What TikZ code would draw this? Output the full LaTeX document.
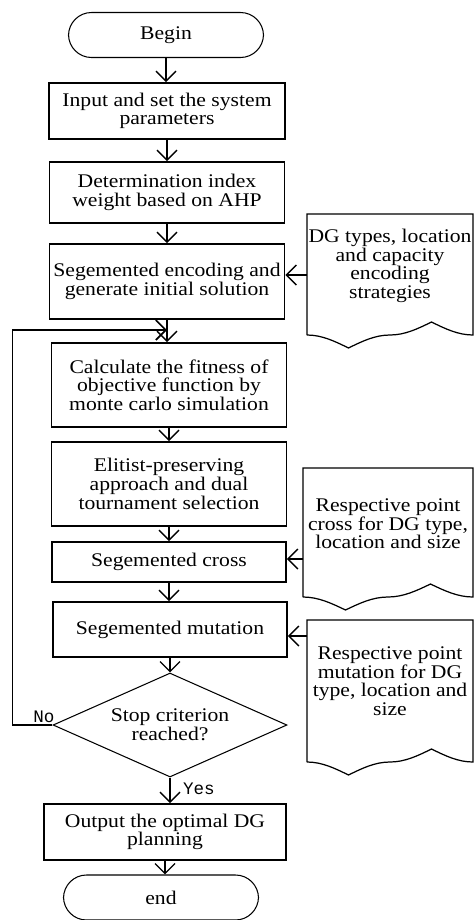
\documentclass[tikz,border=0pt]{standalone}
\usepackage{fontspec}
\setmainfont{Liberation Serif}[FakeStretch=1.12]
\newfontfamily\ynfont{Liberation Mono}
\usetikzlibrary{shapes.geometric,arrows.meta}
\tikzset{
  txt/.style={font=\fontsize{11}{10.6}\selectfont, align=center},
  box/.style={txt, draw, line width=1.1pt, inner sep=1pt},
  term/.style={txt, draw, line width=0.6pt, rounded corners=0.46cm, minimum width=3.9cm, minimum height=0.9cm},
  arr/.style={-{Straight Barb[length=2mm,width=4mm]}, line width=0.8pt},
  yn/.style={font=\ynfont\fontsize{10}{12}\selectfont, inner sep=0pt},
}
\begin{document}
\begin{tikzpicture}[x=0.02cm,y=-0.02cm]
\useasboundingbox (0,0) rectangle (474,920);
%\draw[help lines] (0,0) grid[step=50] (474,920);
\node[term] (begin) at (166,35) {Begin};
\node[box, minimum width=4.72cm, minimum height=1.12cm] (in1) at (167,111) {Input and set the system\\parameters};
\node[box, minimum width=4.7cm, minimum height=1.22cm] (ahp) at (167,192.5) {Determination index\\weight based on AHP};
\node[box, minimum width=4.7cm, minimum height=1.5cm] (enc) at (167,281.5) {Segemented encoding and\\generate initial solution};
\node[box, minimum width=4.7cm, minimum height=1.68cm] (fit) at (169,385) {Calculate the fitness of\\objective function by\\monte carlo simulation};
\node[box, minimum width=4.7cm, minimum height=1.68cm] (sel) at (169,484) {Elitist-preserving\\approach and dual\\tournament selection};
\node[box, minimum width=4.68cm, minimum height=0.8cm] (cross) at (169,562) {Segemented cross};
\node[box, minimum width=4.68cm, minimum height=1.1cm] (mut) at (170,629.5) {Segemented mutation};
\node[txt, draw, diamond, line width=0.6pt, inner sep=0pt, aspect=2.25, minimum width=4.68cm, minimum height=2.08cm] (stop) at (170,725) {Stop criterion\\reached?};
\node[box, minimum width=4.84cm, minimum height=1.12cm] (out) at (165,832) {Output the optimal DG\\planning};
\node[term] (end) at (161,897.5) {end};

% side documents
\draw[line width=0.7pt] (307,335) -- (307,214) -- (473,214) -- (473,335) cos (431.5,322) sin (390,335) cos (348.5,348) sin (307,335);
\draw[line width=0.7pt] (303,597) -- (303,468) -- (473,468) -- (473,597) cos (430.5,584) sin (388,597) cos (345.5,610) sin (303,597);
\draw[line width=0.7pt] (307,762) -- (307,620) -- (473,620) -- (473,762) cos (431.5,749) sin (390,762) cos (348.5,775) sin (307,762);
\node[txt] (d1) at (390,266) {DG types, location\\and capacity\\encoding\\strategies};
\node[txt] (d2) at (388,524) {Respective point\\cross for DG type,\\location and size};
\node[txt] (d3) at (390,681) {Respective point\\mutation for DG\\type, location and\\size};
\coordinate (d1a) at (307,275);
\coordinate (d2a) at (303,559);
\coordinate (d3a) at (307,636);

% flow
\draw[arr] (begin.south) -- (begin.south |- in1.north);
\draw[arr] (in1.south) -- (in1.south |- ahp.north);
\draw[arr] (ahp.south) -- (ahp.south |- enc.north);
\draw[arr] (enc.south) -- (enc.south |- fit.north);
\draw[arr] (fit.south) -- (fit.south |- sel.north);
\draw[arr] (sel.south) -- (sel.south |- cross.north);
\draw[arr] (cross.south) -- (cross.south |- mut.north);
\draw[arr] (mut.south) -- (stop.north);
\draw[arr] (stop.south) -- (stop.south |- out.north) node[yn, pos=0.45, right=7pt] (yes) {Yes};
\draw[arr] (out.south) -- (out.south |- end.north);
\draw[arr] (d1a) -- (enc.east |- d1a);
\draw[arr] (d2a) -- (cross.east |- d2a);
\draw[arr] (d3a) -- (mut.east |- d3a);

% loop back
\coordinate (jn) at (167,330);
\draw[arr, line width=1pt] (stop.west) -- ++(-40,0) |- (jn);
\node[yn] (no) at (44,717) {No};
\end{tikzpicture}
\end{document}
